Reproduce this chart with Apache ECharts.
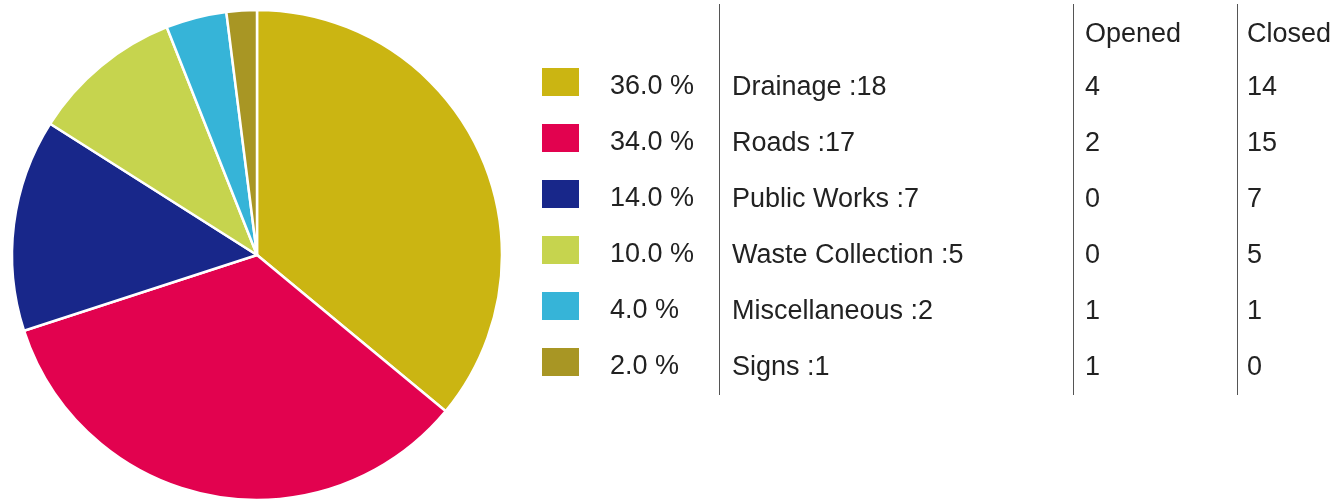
<!DOCTYPE html>
<html>
<head>
<meta charset="utf-8">
<script src="https://cdn.jsdelivr.net/npm/echarts@6/dist/echarts.min.js"></script>
<style>
html,body{margin:0;padding:0;background:#fff;}
#chart{width:1338px;height:502px;}
</style>
</head>
<body>
<div id="chart"></div>
<script>
const categories = ['Drainage', 'Roads', 'Public Works', 'Waste Collection', 'Miscellaneous', 'Signs'];
const counts = [18, 17, 7, 5, 2, 1];
const opened = [4, 2, 0, 0, 1, 1];
const closed = [14, 15, 7, 5, 1, 0];
const colors = ['#cbb512', '#e2024f', '#18278a', '#c6d44e', '#36b4d8', '#a89624'];
const headers = ['Opened', 'Closed'];

const total = counts.reduce((a, b) => a + b, 0);
const FONT = '"Liberation Sans", Arial, sans-serif';
const FS = 27;
const TXT = '#222';
const rowY0 = 88, rowStep = 56;

const graphics = [];
[719, 1073, 1237].forEach(x => {
  graphics.push({type: 'line', shape: {x1: x + 0.5, y1: 4, x2: x + 0.5, y2: 395},
    style: {stroke: '#555', lineWidth: 1}});
});
graphics.push({type: 'text', x: 1085, y: 35, style: {text: headers[0], font: FS + 'px ' + FONT, fill: TXT, textVerticalAlign: 'middle'}});
graphics.push({type: 'text', x: 1247, y: 35, style: {text: headers[1], font: FS + 'px ' + FONT, fill: TXT, textVerticalAlign: 'middle'}});
categories.forEach((c, i) => {
  const y = rowY0 + i * rowStep;
  const pct = (counts[i] / total * 100).toFixed(1) + ' %';
  graphics.push({type: 'text', x: 610, y: y - 1, style: {text: pct, font: FS + 'px ' + FONT, fill: TXT, textVerticalAlign: 'middle'}});
  graphics.push({type: 'text', x: 732, y: y, style: {text: c + ' :' + counts[i], font: FS + 'px ' + FONT, fill: TXT, textVerticalAlign: 'middle'}});
  graphics.push({type: 'text', x: 1085, y: y, style: {text: String(opened[i]), font: FS + 'px ' + FONT, fill: TXT, textVerticalAlign: 'middle'}});
  graphics.push({type: 'text', x: 1247, y: y, style: {text: String(closed[i]), font: FS + 'px ' + FONT, fill: TXT, textVerticalAlign: 'middle'}});
});

const chart = echarts.init(document.getElementById('chart'), null, {renderer: 'canvas'});
chart.setOption({
  animation: false,
  color: colors,
  legend: {
    orient: 'vertical',
    left: 535,
    top: 61,
    padding: 5,
    icon: 'rect',
    itemWidth: 39,
    itemHeight: 30,
    itemGap: 24,
    selectedMode: false,
    data: categories,
    formatter: function () { return ''; },
    textStyle: {fontSize: 1}
  },
  series: [{
    type: 'pie',
    center: [257, 255],
    radius: 245,
    startAngle: 90,
    clockwise: true,
    label: {show: false},
    labelLine: {show: false},
    itemStyle: {borderColor: '#fff', borderWidth: 2.5},
    data: categories.map((c, i) => ({name: c, value: counts[i]}))
  }],
  graphic: graphics
});
</script>
</body>
</html>
